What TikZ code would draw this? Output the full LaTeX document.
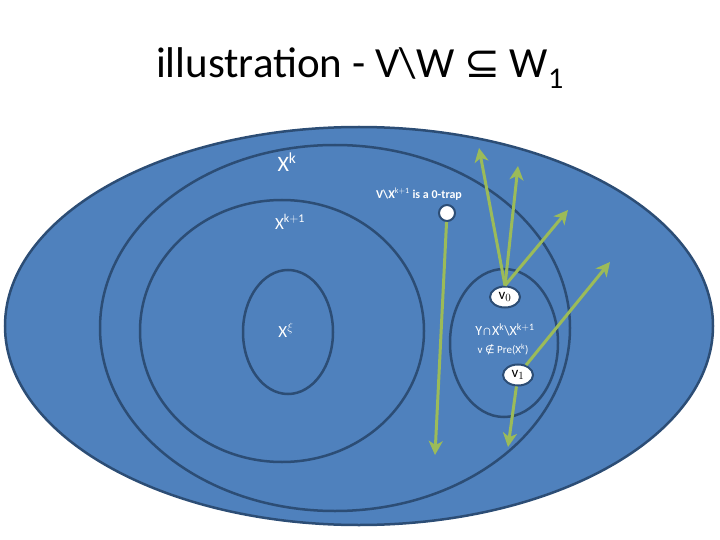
\documentclass[tikz,border=0pt]{standalone}
\usepackage{fontspec}
\setmainfont{Carlito}
\newfontfamily\symf{DejaVu Sans}
\usetikzlibrary{arrows.meta,shapes.geometric}
\definecolor{fillb}{RGB}{79,129,189}
\definecolor{edgeb}{RGB}{44,77,117}
\definecolor{grn}{RGB}{155,187,89}
\begin{document}
\begin{tikzpicture}[x=1pt,y=-1pt,
  ring/.style={draw=edgeb,line width=2.5pt},
  lbl/.style={text=white,font=\fontsize{17}{17}\selectfont},
  vert/.style={ellipse,draw=edgeb,fill=white,line width=2pt,inner sep=0pt,minimum width=30pt,minimum height=21pt,font=\fontsize{15}{15}\selectfont},
  arr/.style={draw=grn,line width=3pt,-{Stealth[length=14pt,width=14pt,inset=4pt]}},
  ln/.style={draw=grn,line width=3pt}]
\useasboundingbox (0,0) rectangle (720,540);
\node (title) at (360,68) {\fontsize{43}{43}\selectfont illustration - V\textbackslash W {\symf ⊆} W$_{\mathrm{1}}$};
\filldraw[fill=fillb,ring] (359,326) ellipse [x radius=354,y radius=199];
\draw[ring] (335,328) ellipse [x radius=235,y radius=183];
\draw[ring] (282,331) ellipse [x radius=142,y radius=131];
\draw[ring] (288,332) ellipse [x radius=45,y radius=62];
\draw[ring] (504,343) ellipse [x radius=54,y radius=74];
\node[lbl,font=\fontsize{22}{22}\selectfont] (xk) at (287,162) {X$^{\mathrm{k}}$};
\node[lbl] (xk1) at (290,222) {X$^{\mathrm{k+1}}$};
\node[lbl] (xxi) at (286,330) {X$^{\xi}$};
\node[text=white,font=\bfseries\fontsize{12}{12}\selectfont] (trap) at (419,194) {V\textbackslash X$^{\mathrm{k+1}}$ is a 0-trap};
\node[text=white,font=\fontsize{14}{14}\selectfont] (y) at (505,330) {Y∩X$^{\mathrm{k}}$\textbackslash X$^{\mathrm{k+1}}$};
\node[text=white,font=\fontsize{11}{11}\selectfont] (vnot) at (503,350) {v {\symf ∉} Pre(X$^{\mathrm{k}}$)};
\node[circle,draw=edgeb,fill=white,line width=2pt,minimum size=16pt,inner sep=0pt] (dot) at (447,213) {};
\node[vert] (v0) at (505,297) {v$_0$};
\node[vert] (v1) at (518,375) {v$_1$};
\coordinate (d1) at (435,455);
\coordinate (a1) at (479,148);
\coordinate (a2) at (518,166);
\coordinate (a3) at (568,210);
\coordinate (a4) at (610,262);
\coordinate (d2) at (508,447);
\draw[arr] (dot) -- (d1);
\draw[arr] (v0.north) -- (a1);
\draw[arr] (v0.north) -- (a2);
\draw[arr] (v0.north) -- (a3);
\draw[arr] (v1) -- (a4);
\draw[arr] (v1) -- (d2);
\end{tikzpicture}
\end{document}
